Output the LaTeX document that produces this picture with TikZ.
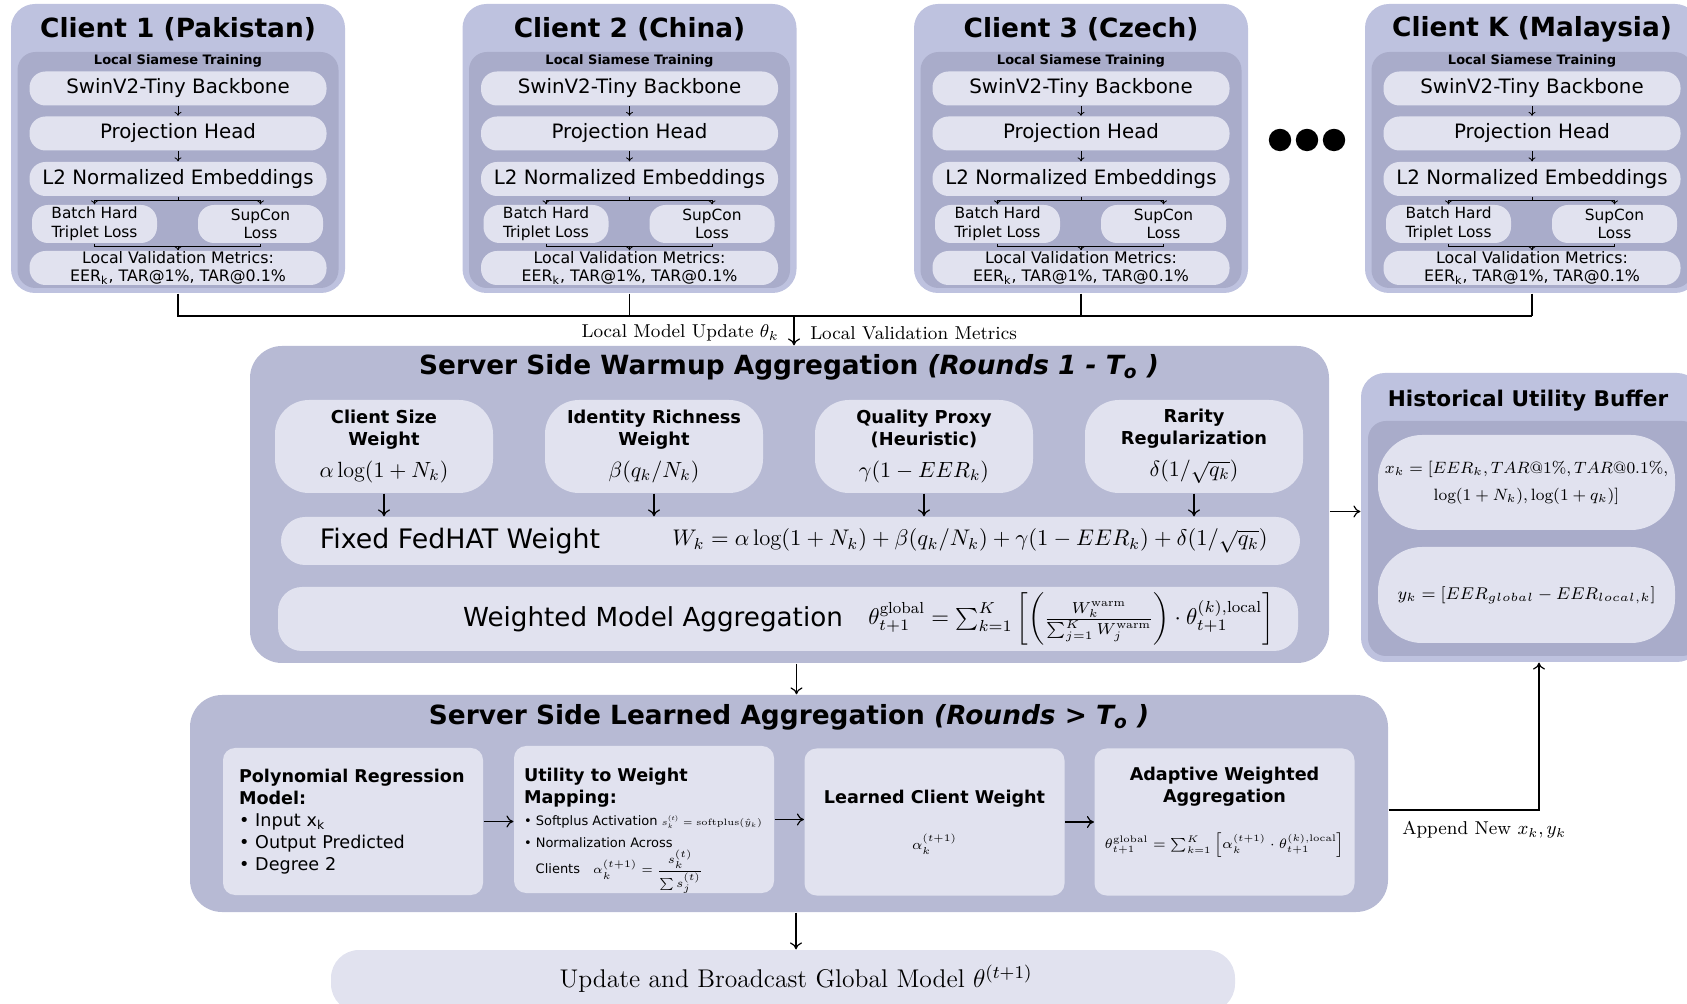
\RequirePackage{fix-cm}
\documentclass[tikz,border=0pt]{standalone}
\usepackage{amsmath}
\usepackage{fontspec}
\setsansfont{DejaVu Sans}
\usetikzlibrary{arrows.meta}
\definecolor{clientbg}{RGB}{190,194,223}
\definecolor{panelbg}{RGB}{169,172,202}
\definecolor{lightbg}{RGB}{225,226,239}
\definecolor{serverbg}{RGB}{183,186,212}
\newcommand{\fsz}[2]{\fontsize{#1}{#2}\selectfont}

\begin{document}
\begin{tikzpicture}[
    x=0.5pt, y=-0.5pt, >={To[length=3.5pt,width=6pt]}, line width=0.6pt,
    outer/.style={fill=clientbg, rounded corners=12pt, inner sep=0pt},
    srv/.style={fill=serverbg, rounded corners=16pt, inner sep=0pt},
    panel/.style={fill=panelbg, rounded corners=9pt, inner sep=0pt},
    lite/.style={fill=lightbg, rounded corners=8pt, inner sep=0pt, align=center},
    wide/.style={lite, minimum width=148.5pt, minimum height=17pt,
                 font=\sffamily\fsz{9.9}{12}},
    half/.style={lite, minimum width=62.5pt, minimum height=19pt,
                 font=\sffamily\fsz{7.7}{9.3}},
    ctitle/.style={font=\sffamily\bfseries\fsz{13.2}{15}},
    ptitle/.style={font=\sffamily\bfseries\fsz{6.5}{8}},
    stitle/.style={font=\sffamily\bfseries\fsz{13.2}{15}},
    term/.style={lite, rounded corners=17pt, minimum width=109pt, minimum height=46.5pt,
                 font=\sffamily\bfseries\fsz{8.9}{11}},
    bar/.style={lite, rounded corners=12pt},
    stage/.style={lite, rounded corners=6pt, minimum width=130pt, minimum height=73.5pt,
                  font=\sffamily\fsz{8.8}{11}},
    sarr/.style={line width=0.4pt, -{To[length=2pt,width=3.5pt]}},
    lbl/.style={font=\fsz{9.3}{11}},
  ]
  \useasboundingbox (0,0) rectangle (1687,1004);

  % local clients
  \foreach \i/\nm/\cx in {1/{Client 1 (Pakistan)}/178, 2/{Client 2 (China)}/629.5,
                          3/{Client 3 (Czech)}/1081, K/{Client K (Malaysia)}/1532}{
    \node[outer, minimum width=167pt, minimum height=144.5pt] (c\i) at (\cx,148.5) {};
    \node[ctitle] (c\i-t) at (\cx,29) {\nm};
    \node[panel, minimum width=160.5pt, minimum height=118pt] (c\i-p) at (\cx,170) {};
    \node[ptitle] (c\i-lst) at (\cx,61) {Local Siamese Training};
    \node[wide] (c\i-bb) at (\cx,88.5) {SwinV2-Tiny Backbone};
    \node[wide] (c\i-ph) at (\cx,133.5) {Projection Head};
    \node[wide] (c\i-l2) at (\cx,179) {L2 Normalized Embeddings};
    \node[half] (c\i-bh) at ({\cx-83.5},224) {Batch Hard\\Triplet Loss};
    \node[half] (c\i-sc) at ({\cx+82.5},224) {SupCon\\Loss};
    \node[wide, font=\sffamily\fsz{7.9}{9}] (c\i-val) at (\cx,268)
      {Local Validation Metrics:\\EER\textsubscript{k}, TAR@1\%, TAR@0.1\%};
    \coordinate (c\i-mg) at (\cx,246);
    \draw[sarr] (c\i-bb) -- (c\i-ph);
    \draw[sarr] (c\i-ph) -- (c\i-l2);
    \draw[line width=0.4pt] (c\i-l2.south) -- ++(0,4) coordinate (c\i-sp);
    \draw[sarr] (c\i-sp) -| (c\i-bh.north);
    \draw[sarr] (c\i-sp) -| (c\i-sc.north);
    \draw[line width=0.4pt] (c\i-bh.south) -- ++(0,3) -| (c\i-sc.south);
    \draw[sarr] (c\i-mg) -- (c\i-val);
  }
  \foreach \dx in {1280,1307,1334}
    \fill (\dx,140) circle (5.6pt);

  % warmup aggregation
  \node[srv, minimum width=539.5pt, minimum height=158.5pt] (warm) at (789.5,504.5) {};
  \node[stitle] (warmt) at (789,367)
    {Server Side Warmup Aggregation \textit{(Rounds 1 - T\textsubscript{o} )}};
  \node[term] (w1) at (384,446.5)
    {Client Size\\Weight\\[5pt]{\mdseries\fsz{11}{13}$\alpha\log(1+N_k)$}};
  \node[term] (w2) at (654,446.5)
    {Identity Richness\\Weight\\[5pt]{\mdseries\fsz{11}{13}$\beta(q_k/N_k)$}};
  \node[term] (w3) at (924,446.5)
    {Quality Proxy\\(Heuristic)\\[5pt]{\mdseries\fsz{11}{13}$\gamma(1-EER_k)$}};
  \node[term] (w4) at (1194,446.5)
    {Rarity\\Regularization\\[5pt]{\mdseries\fsz{11}{13}$\delta(1/\sqrt{q_k})$}};
  \node[bar, minimum width=509.5pt, minimum height=24pt] (fixed) at (790.5,541) {};
  \node[font=\sffamily\fsz{13.4}{15}] (fixedt) at (460,541) {Fixed FedHAT Weight};
  \node[font=\fsz{11.3}{14}] (fixedf) at (970,541)
    {$W_k=\alpha\log(1+N_k)+\beta(q_k/N_k)+\gamma(1-EER_k)+\delta(1/\sqrt{q_k})$};
  \foreach \w in {w1,w2,w3,w4}
    \draw[->] (\w.south) -- (\w.south |- fixed.north);
  \node[bar, minimum width=510pt, minimum height=32pt] (wagg) at (788,619) {};
  \node[font=\sffamily\fsz{13.1}{15}] (waggt) at (653,619) {Weighted Model Aggregation};
  \node[font=\fsz{11.4}{13}] (waggf) at (1071,619)
    {$\theta_{t+1}^{\mathrm{global}}=\sum_{k=1}^{K}\left[\left(\frac{W_k^{\mathrm{warm}}}{\sum_{j=1}^{K}W_j^{\mathrm{warm}}}\right)\cdot\theta_{t+1}^{(k),\mathrm{local}}\right]$};

  % client uploads
  \coordinate (bus) at (794,316);
  \draw (c1.south) -- (c1.south |- bus) -- (cK.south |- bus);
  \draw (c2.south) -- (c2.south |- bus);
  \draw (c3.south) -- (c3.south |- bus);
  \draw (cK.south) -- (cK.south |- bus);
  \draw[->] (bus) -- (bus |- warm.north);
  \node[lbl, anchor=east] (upd) at (786,333) {Local Model Update $\theta_k$};
  \node[lbl, anchor=west] (valm) at (803,333) {Local Validation Metrics};

  % historical buffer
  \node[outer, minimum width=170pt, minimum height=144.5pt] (buf) at (1531,517.5) {};
  \node[ctitle, font=\sffamily\bfseries\fsz{10.8}{13}] (buft) at (1528,401)
    {Historical Utility Buffer};
  \node[panel, minimum width=166pt, minimum height=117.5pt] (bufp) at (1534,538.5) {};
  \node[lite, rounded corners=22pt, minimum width=148.5pt, minimum height=47.5pt,
        font=\fsz{8.2}{13.5}] (xk) at (1526.5,482.5)
    {$x_k=[EER_k, TAR@1\%, TAR@0.1\%,$\\$\log(1+N_k),\log(1+q_k)]$};
  \node[lite, rounded corners=22pt, minimum width=148.5pt, minimum height=48pt,
        font=\fsz{8.5}{13}] (yk) at (1526.5,595)
    {$y_k=[EER_{global}-EER_{local,k}]$};
  \draw[->] ([yshift=-3.5pt]warm.east) -- ([yshift=-3.5pt]warm.east -| buf.west);

  % learned aggregation
  \node[srv, minimum width=599pt, minimum height=108.5pt] (learn) at (789,803.5) {};
  \node[stitle] (learnt) at (789,717)
    {Server Side Learned Aggregation \textit{(Rounds > T\textsubscript{o} )}};
  \node[stage, text width=114pt, align=left] (poly) at (353,821.5)
    {\textbf{Polynomial Regression}\\\textbf{Model:}\\\textbullet\ Input x\textsubscript{k}\\
     \textbullet\ Output Predicted\\\textbullet\ Degree 2};
  \node[stage] (util) at (644,819.5) {};
  \node[align=left, inner sep=0pt, font=\sffamily\fsz{8.8}{11}] (utilt) at (643,831)
    {\textbf{Utility to Weight}\\\textbf{Mapping:}\\
     {\fsz{6.5}{8}\textbullet\ Softplus Activation
      {\fsz{4.6}{6}$s_k^{(t)}=\mathrm{softplus}(\hat{y}_k)$}}\\
     {\fsz{6.5}{8}\textbullet\ Normalization Across}\\
     {\fsz{6.5}{8}\hspace*{0.9em}Clients\quad
      {\fsz{6}{7}$\alpha_k^{(t+1)}=\dfrac{s_k^{(t)}}{\sum s_j^{(t)}}$}}};
  \node[stage] (lcw) at (934.5,822)
    {\textbf{Learned Client Weight}\\[12pt]{\fsz{7}{9}$\alpha_k^{(t+1)}$}};
  \node[stage] (adap) at (1224.5,822)
    {\textbf{Adaptive Weighted}\\\textbf{Aggregation}\\[12pt]
     {\fsz{6.8}{9}$\theta_{t+1}^{\mathrm{global}}=\sum_{k=1}^{K}\left[\alpha_k^{(t+1)}\cdot\theta_{t+1}^{(k),\mathrm{local}}\right]$}\\[3pt]~};
  \draw[->] (poly.east) -- (poly.east -| util.west);
  \draw[->] (util.east) -- (util.east -| lcw.west);
  \draw[->] (lcw.east) -- (lcw.east -| adap.west);
  \draw[->] ([xshift=3.5pt]warm.south) -- ([xshift=3.5pt]warm.south |- learn.north);

  % append to buffer
  \coordinate (app) at (1539,810);
  \draw[->] (learn.east |- app) -- (app) -- (app |- buf.south);
  \node[lbl, anchor=north west] (appl) at (1395,814) {Append New $x_k, y_k$};

  % broadcast
  \node[lite, rounded corners=14pt, minimum width=452pt, minimum height=31pt] (bcast)
    at (783,981) {};
  \node[font=\fsz{12.8}{15}] (bcastt) at (796,979)
    {Update and Broadcast Global Model $\theta^{(t+1)}$};
  \draw[->] ([xshift=3.5pt]learn.south) -- ([xshift=3.5pt]learn.south |- bcast.north);
\end{tikzpicture}
\end{document}
